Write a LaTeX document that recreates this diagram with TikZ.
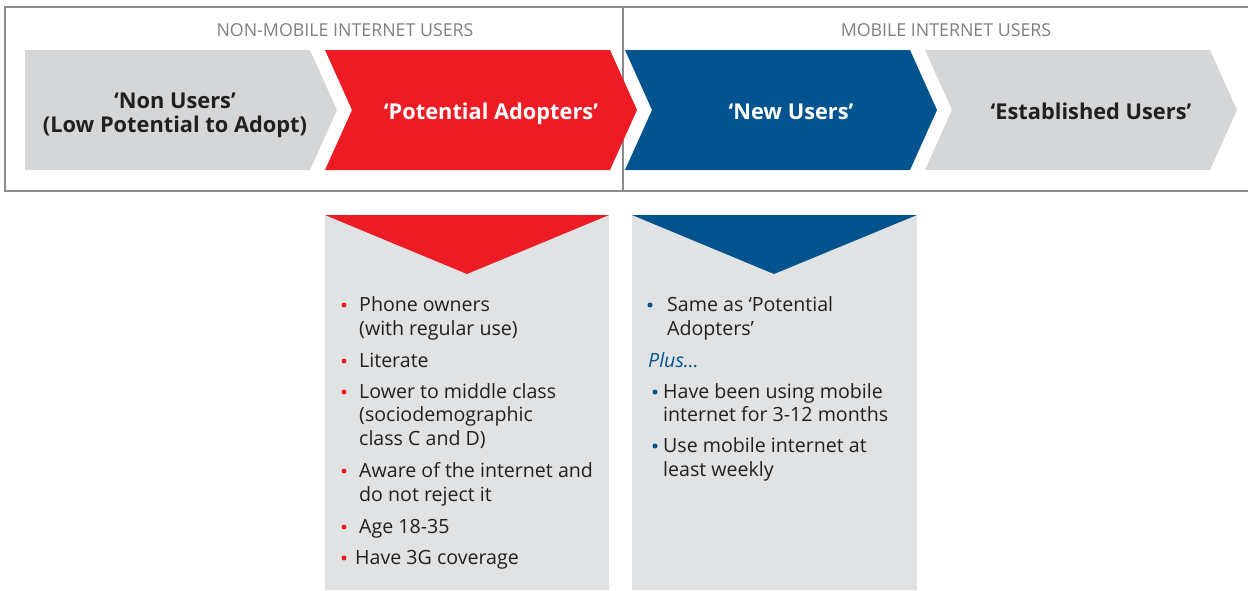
\documentclass[tikz,border=0pt]{standalone}
\usepackage{fontspec}
\setmainfont{Open Sans}
\definecolor{cgray}{HTML}{D5D6D8}
\definecolor{boxgray}{HTML}{E1E2E3}
\definecolor{cred}{HTML}{ED1C24}
\definecolor{cblue}{HTML}{03548E}
\definecolor{ctext}{HTML}{231F20}
\definecolor{chead}{HTML}{7F7F7F}
\definecolor{frame}{HTML}{8C8C8C}
\tikzset{
  head/.style={anchor=base, text=chead, font=\fontsize{17.8}{20}\selectfont, inner sep=0pt},
  chevtext/.style={anchor=base, font=\fontsize{21.8}{24}\selectfont\bfseries, inner sep=0pt},
  item/.style={anchor=base west, text=ctext, font=\fontsize{19.6}{24}\selectfont, inner sep=0pt},
  plus/.style={anchor=base west, text=cblue, font=\fontsize{19.6}{24}\selectfont\itshape, inner sep=0pt},
  rdot/.style={fill=cred, circle, inner sep=0pt, minimum size=5pt},
  bdot/.style={fill=cblue, circle, inner sep=0pt, minimum size=5pt},
}
\begin{document}
\begin{tikzpicture}[x=1pt,y=-1pt]
\useasboundingbox (0,0) rectangle (1248,590);
% frame
\draw[frame, line width=1.2pt] (1248,7) -- (5,7) -- (5,191) -- (1248,191);
\draw[frame, line width=1.2pt] (623,7) -- (623,191);
\node[head] (h1) at (345,36) {NON-MOBILE INTERNET USERS};
\node[head] (h2) at (946,36) {MOBILE INTERNET USERS};
% chevrons
\fill[cgray] (25,50) -- (310,50) -- (337,110) -- (310,170) -- (25,170) -- cycle;
\fill[cred] (325,50) -- (610,50) -- (637,110) -- (610,170) -- (325,170) -- (352,110) -- cycle;
\fill[cblue] (625,50) -- (910,50) -- (937,110) -- (910,170) -- (625,170) -- (652,110) -- cycle;
\fill[cgray] (925,50) -- (1210,50) -- (1237,110) -- (1210,170) -- (925,170) -- (952,110) -- cycle;
\node[chevtext, text=ctext] (c1a) at (175,108.5) {‘Non Users’};
\node[chevtext, text=ctext] (c1b) at (175,132.5) {(Low Potential to Adopt)};
\node[chevtext, text=white] (c2) at (491,119.5) {‘Potential Adopters’};
\node[chevtext, text=white] (c3) at (791,119.5) {‘New Users’};
\node[chevtext, text=ctext] (c4) at (1091,119.5) {‘Established Users’};
% lower boxes
\fill[boxgray] (325,215) rectangle (609,590);
\fill[cred] (325,215) -- (609,215) -- (467,274) -- cycle;
\fill[boxgray] (632,215) rectangle (917,590);
\fill[cblue] (632,215) -- (917,215) -- (774,274) -- cycle;
% red list
\node[rdot] (rd1) at (344,305) {};
\node[item] (r1a) at (359,311) {Phone owners};
\node[item] (r1b) at (359,335) {(with regular use)};
\node[rdot] (rd2) at (344,361) {};
\node[item] (r2) at (359,367) {Literate};
\node[rdot] (rd3) at (344,392) {};
\node[item] (r3a) at (359,398) {Lower to middle class};
\node[item] (r3b) at (359,421.5) {(sociodemographic};
\node[item] (r3c) at (359,445.5) {class C and D)};
\node[rdot] (rd4) at (344,471) {};
\node[item] (r4a) at (359,477) {Aware of the internet and};
\node[item] (r4b) at (359,501) {do not reject it};
\node[rdot] (rd5) at (344,527) {};
\node[item] (r5) at (359,533) {Age 18-35};
\node[rdot] (rd6) at (344,558) {};
\node[item] (r6) at (355,564.5) {Have 3G coverage};
% blue list
\node[bdot] (bd1) at (650,305) {};
\node[item] (b1a) at (667,311) {Same as ‘Potential};
\node[item] (b1b) at (667,335) {Adopters’};
\node[plus] (bp) at (648,367) {Plus…};
\node[bdot] (bd2) at (655,392) {};
\node[item] (b2a) at (663,398) {Have been using mobile};
\node[item] (b2b) at (663,421.5) {internet for 3-12 months};
\node[bdot] (bd3) at (655,446) {};
\node[item] (b3a) at (663,452) {Use mobile internet at};
\node[item] (b3b) at (663,476.5) {least weekly};
\end{tikzpicture}
\end{document}
